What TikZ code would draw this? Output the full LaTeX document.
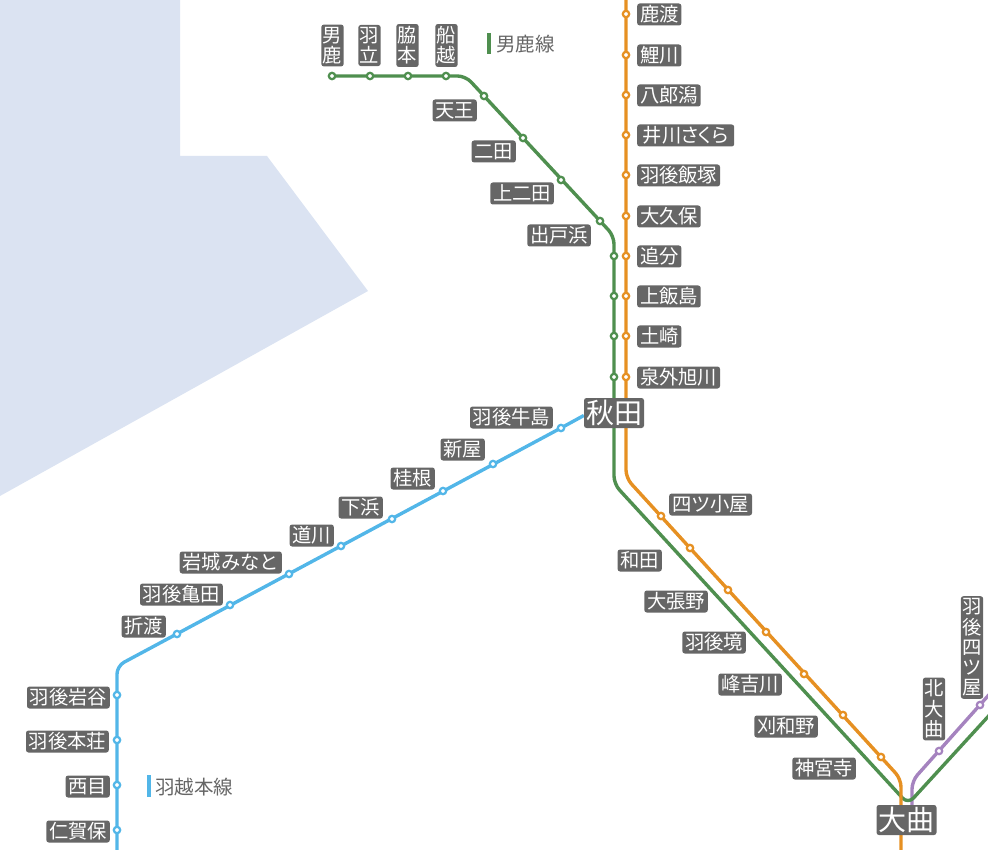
\documentclass[tikz,border=0pt]{standalone}
\usepackage{fontspec}
\setmainfont{Noto Sans CJK JP}
\usetikzlibrary{backgrounds}
\definecolor{lgreen}{HTML}{4F8F4F}
\definecolor{lorange}{HTML}{E69022}
\definecolor{lblue}{HTML}{52B6E8}
\definecolor{lpurple}{HTML}{A583BF}
\definecolor{sea}{HTML}{DBE3F2}
\definecolor{lab}{HTML}{666666}
\tikzset{
  x=1pt,y=-1pt,
  lbl/.style={fill=lab,text=white,rounded corners=2.5pt,inner xsep=2.8pt,inner ysep=0pt,minimum height=22pt,font=\fontsize{19.3}{19.3}\selectfont,text height=15.7pt,text depth=2.6pt},
  vlbl/.style={fill=lab,text=white,rounded corners=2.5pt,inner xsep=1.5pt,inner ysep=2.5pt,minimum width=22pt,align=center,font=\fontsize{19.3}{20.2}\selectfont},
  big/.style={fill=lab,text=white,rounded corners=2.5pt,inner xsep=2pt,inner ysep=0pt,minimum height=30pt,font=\fontsize{28}{28}\selectfont,text height=23pt,text depth=3pt},
  legend/.style={text=lab,inner sep=0pt,anchor=west,font=\fontsize{19.5}{19.5}\selectfont},
  sta/.style={circle,fill=white,draw=#1,line width=2.2pt,inner sep=0pt,minimum size=6.4pt},
  route/.style={draw=#1,line width=3.4pt,rounded corners=8pt,line join=round},
  bar/.style={draw=#1,line width=3.8pt},
}
\begin{document}
\begin{tikzpicture}
\useasboundingbox (0,0) rectangle (988,850);
\begin{scope}
\clip (0,0) rectangle (988,850);

% free ends and bends
\coordinate (gA) at (465.5,76);
\coordinate (gB) at (614,236);
\coordinate (gC) at (614,484);
\coordinate (gD) at (908,804);
\coordinate (gE) at (995,709);
\coordinate (oTop) at (626,-5);
\coordinate (oA) at (626,478);
\coordinate (oB) at (901,779);
\coordinate (oEnd) at (901,855);
\coordinate (bEnd) at (117,855);
\coordinate (bA) at (117,666);
\coordinate (pA) at (912,781);
\coordinate (pB) at (912,810);
\coordinate (pEnd) at (995,688);
\coordinate (lgA) at (489,33);
\coordinate (lgB) at (489,54);
\coordinate (lbA) at (149,775);
\coordinate (lbB) at (149,797);

% stations: green
\foreach \n/\x/\y in {g1/332/76,g2/370/76,g3/408/76,g4/446/76,g5/484/96,g6/523/138,g7/561/180,g8/600/221,g9/614/256,g10/614/296,g11/614/336,g12/614/377}
  \node[sta=lgreen] (\n) at (\x,\y) {};
% stations: orange
\foreach \n/\x/\y in {o1/626/14,o2/626/55,o3/626/95,o4/626/135,o5/626/175,o6/626/216,o7/626/256,o8/626/296,o9/626/336,o10/626/377,o11/661/516,o12/690/548,o13/728/590,o14/766/632,o15/804/674,o16/843/715,o17/881/757}
  \node[sta=lorange] (\n) at (\x,\y) {};
% stations: blue
\foreach \n/\x/\y in {b1/561/428,b2/493/464,b3/443/491,b4/392/519,b5/341/546,b6/289/574,b7/230/605,b8/177/634,b9/117/695,b10/117/740,b11/117/785,b12/117/830}
  \node[sta=lblue] (\n) at (\x,\y) {};
% stations: purple
\foreach \n/\x/\y in {p1/980/705,p2/939/751}
  \node[sta=lpurple] (\n) at (\x,\y) {};

% labels
\foreach \n/\y/\t in {o1/14.5/鹿渡,o2/55.5/鯉川,o3/95.5/八郎潟,o5/175.5/羽後飯塚,o6/216.5/大久保,o7/256.5/追分,o8/296.5/上飯島,o9/336.5/土崎,o10/377.5/泉外旭川}
  \node[lbl,anchor=west] (t\n) at (637,\y) {\t};
\node[lbl,anchor=west,minimum width=97pt] (to4) at (637,135.5) {\addfontfeatures{RawFeature=+palt}井川さくら};
\node[lbl,anchor=west] (to11) at (669,504.5) {四ツ小屋};
\foreach \n/\x/\y/\t in {g5/477/110.5/天王,g6/516/151.5/二田,g7/554/193.5/上二田,g8/591/235.5/出戸浜,
  x1/662/560.5/和田,x2/708/601.5/大張野,x3/746/642.5/羽後境,x4/782/684.5/峰吉川,x5/818/726.5/刈和野,x6/856/768.5/神宮寺,
  b1/553/417.5/羽後牛島,b2/485/449.5/新屋,b3/435/478.5/桂根,b4/383/507.5/下浜,b5/334/535.5/道川,b6/282/562.5/岩城みなと,b7/223/594.5/羽後亀田,b8/166/626.5/折渡,
  b9/110/697.5/羽後岩谷,b10/109/741.5/羽後本荘,b11/110/786.5/西目,b12/110/831.5/仁賀保}
  \node[lbl,anchor=east] (t\n) at (\x,\y) {\t};
\node[vlbl] (tg1) at (332.5,45.5) {男\\鹿};
\node[vlbl] (tg2) at (369.5,45.5) {羽\\立};
\node[vlbl] (tg3) at (407.5,45.5) {脇\\本};
\node[vlbl] (tg4) at (446.5,45.5) {船\\越};
\node[vlbl] (tp2) at (934,709) {北\\大\\曲};
\node[vlbl] (tp1) at (972,647.5) {羽\\後\\四\\ツ\\屋};
\node[big] (akita) at (614,413) {秋田};
\node[big] (omagari) at (906.5,820) {大曲};

% legends
\node[legend] (tlg) at (496,44) {男鹿線};
\node[legend] (tlb) at (155,787) {羽越本線};

\begin{pgfonlayer}{background}
  \fill[sea] (0,0) -- (180,0) -- (180,156) -- (267,156) -- (368,291) -- (0,496) -- cycle;
  \draw[route=lblue] (bEnd) -- (bA) -- (b1.center) -- ([yshift=-2.5pt]akita.west);
  \draw[route=lpurple] (pEnd) -- (pA) -- (pB);
  \draw[route=lgreen] (g1.center) -- (gA) -- (gB) -- (gC) -- (gD) -- (gE);
  \draw[route=lorange] (oTop) -- (oA) -- (oB) -- (oEnd);
  \draw[bar=lgreen] (lgA) -- (lgB);
  \draw[bar=lblue] (lbA) -- (lbB);
\end{pgfonlayer}
\end{scope}
\end{tikzpicture}
\end{document}
